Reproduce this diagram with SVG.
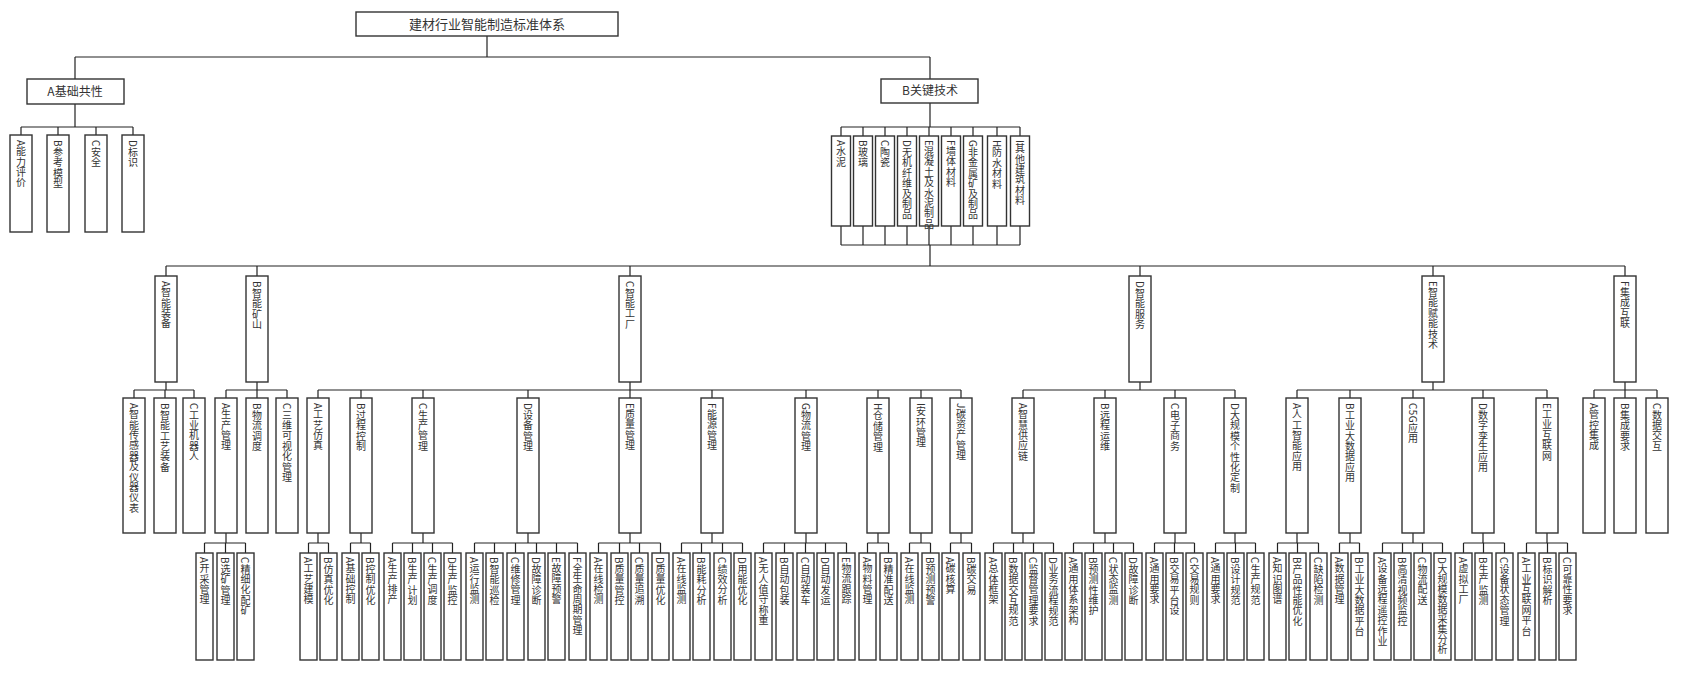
<svg xmlns="http://www.w3.org/2000/svg" width="1693" height="680" viewBox="0 0 1693 680">
<style>
rect{fill:#fff;stroke:#333;stroke-width:1.4}
text{font-family:"Noto Sans CJK SC","Liberation Serif",serif;fill:#333}
.h{font-size:12px;text-anchor:middle}
.v{font-size:10px;writing-mode:vertical-rl;text-orientation:mixed;letter-spacing:0.4px}
#c path{fill:none;stroke:#222;stroke-width:1.2}
</style>
<g id="c"><path d="M487 36V57M75 57H930M75 57V79M930 57V79
M75 104V127M21 127H133M21 127V135M58 127V135M96 127V135M133 127V135
M930 103V127M841 127H1020M841 127V136M863 127V136M885 127V136M907 127V136M929 127V136M951 127V136M973 127V136M997 127V136M1020 127V136
M841 226V245M863 226V245M885 226V245M907 226V245M929 226V245M951 226V245M973 226V245M997 226V245M1020 226V245M841 245H1020M930 245V266
M166 266H1625M166 266V276M257 266V276M630 266V276M1140 266V276M1433 266V276M1625 266V276
M166 382V390M134 390H194M134 390V398M165 390V398M194 390V398
M257 382V390M226 390H287M226 390V398M257 390V398M287 390V398
M630 382V390M318 390H961M318 390V398M361 390V398M423 390V398M528 390V398M630 390V398M712 390V398M806 390V398M878 390V398M921 390V398M961 390V398
M1140 382V390M1023 390H1235M1023 390V398M1105 390V398M1175 390V398M1235 390V398
M1433 382V390M1297 390H1547M1297 390V398M1350 390V398M1413 390V398M1483 390V398M1547 390V398
M1625 382V390M1594 390H1657M1594 390V398M1625 390V398M1657 390V398
M226 533V543M204.5 543H245.5M204.5 543V553M225.5 543V553M245.5 543V553
M318 533V543M308.5 543H328.5M308.5 543V553M328.5 543V553
M361 533V543M350.5 543H370.5M350.5 543V553M370.5 543V553
M423 533V543M392.5 543H452.5M392.5 543V553M412.5 543V553M432.5 543V553M452.5 543V553
M528 533V543M474.5 543H577.5M474.5 543V553M494.5 543V553M515.5 543V553M536.5 543V553M556.5 543V553M577.5 543V553
M630 533V543M598.5 543H660.5M598.5 543V553M619.5 543V553M639.5 543V553M660.5 543V553
M712 533V543M681.5 543H742.5M681.5 543V553M701.5 543V553M722.5 543V553M742.5 543V553
M806 533V543M763.5 543H846.5M763.5 543V553M784.5 543V553M805.5 543V553M825.5 543V553M846.5 543V553
M878 533V543M867.5 543H888.5M867.5 543V553M888.5 543V553
M921 533V543M909.5 543H930.5M909.5 543V553M930.5 543V553
M961 533V543M950.5 543H971.5M950.5 543V553M971.5 543V553
M1023 533V543M993.5 543H1053.5M993.5 543V553M1013.5 543V553M1033.5 543V553M1053.5 543V553
M1105 533V543M1073.5 543H1133.5M1073.5 543V553M1093.5 543V553M1113.5 543V553M1133.5 543V553
M1175 533V543M1154.5 543H1194.5M1154.5 543V553M1174.5 543V553M1194.5 543V553
M1235 533V543M1215.5 543H1255.5M1215.5 543V553M1235.5 543V553M1255.5 543V553
M1297 533V543M1277.5 543H1318.5M1277.5 543V553M1297.5 543V553M1318.5 543V553
M1350 533V543M1339.5 543H1359.5M1339.5 543V553M1359.5 543V553
M1413 533V543M1382.5 543H1442.5M1382.5 543V553M1402.5 543V553M1422.5 543V553M1442.5 543V553
M1483 533V543M1463.5 543H1504.5M1463.5 543V553M1483.5 543V553M1504.5 543V553
M1547 533V543M1526.5 543H1567.5M1526.5 543V553M1547.5 543V553M1567.5 543V553"/></g>
<g id="root"><rect x="356" y="12" width="262" height="24"/><text class="h" x="487" y="29" style="font-size:13px">建材行业智能制造标准体系</text></g>
<g id="A"><rect x="27" y="79" width="97" height="25"/><text class="h" x="75" y="96">A基础共性</text></g>
<g id="B"><rect x="881" y="79" width="97" height="24"/><text class="h" x="930" y="95">B关键技术</text></g>
<g id="A-A"><rect x="10" y="135" width="22" height="97"/><text class="v" x="21" y="140">A能力评价</text></g>
<g id="A-B"><rect x="47" y="135" width="22" height="97"/><text class="v" x="58" y="140">B参考模型</text></g>
<g id="A-C"><rect x="85" y="135" width="22" height="97"/><text class="v" x="96" y="140">C安全</text></g>
<g id="A-D"><rect x="122" y="135" width="22" height="97"/><text class="v" x="133" y="140">D标识</text></g>
<g id="B-A"><rect x="831.5" y="136" width="19" height="90"/><text class="v" x="841" y="140">A水泥</text></g>
<g id="B-B"><rect x="853.5" y="136" width="19" height="90"/><text class="v" x="863" y="140">B玻璃</text></g>
<g id="B-C"><rect x="875.5" y="136" width="19" height="90"/><text class="v" x="885" y="140">C陶瓷</text></g>
<g id="B-D"><rect x="897.5" y="136" width="19" height="90"/><text class="v" x="907" y="140">D无机纤维及制品</text></g>
<g id="B-E"><rect x="919.5" y="136" width="19" height="90"/><text class="v" x="929" y="140">E混凝土及水泥制品</text></g>
<g id="B-F"><rect x="941.5" y="136" width="19" height="90"/><text class="v" x="951" y="140">F墙体材料</text></g>
<g id="B-G"><rect x="963.5" y="136" width="19" height="90"/><text class="v" x="973" y="140">G非金属矿及制品</text></g>
<g id="B-H"><rect x="987.5" y="136" width="19" height="90"/><text class="v" x="997" y="140">H防水材料</text></g>
<g id="B-I"><rect x="1010.5" y="136" width="19" height="90"/><text class="v" x="1020" y="140">I其他建筑材料</text></g>
<g id="L2-A"><rect x="155" y="276" width="22" height="106"/><text class="v" x="166" y="281">A智能装备</text></g>
<g id="L2-B"><rect x="246" y="276" width="22" height="106"/><text class="v" x="257" y="281">B智能矿山</text></g>
<g id="L2-C"><rect x="619" y="276" width="22" height="106"/><text class="v" x="630" y="281">C智能工厂</text></g>
<g id="L2-D"><rect x="1129" y="276" width="22" height="106"/><text class="v" x="1140" y="281">D智能服务</text></g>
<g id="L2-E"><rect x="1422" y="276" width="22" height="106"/><text class="v" x="1433" y="281">E智能赋能技术</text></g>
<g id="L2-F"><rect x="1614" y="276" width="22" height="106"/><text class="v" x="1625" y="281">F集成互联</text></g>
<g id="L3-AA"><rect x="123" y="398" width="22" height="135"/><text class="v" x="134" y="403">A智能传感器及仪器仪表</text></g>
<g id="L3-AB"><rect x="154" y="398" width="22" height="135"/><text class="v" x="165" y="403">B智能工艺装备</text></g>
<g id="L3-AC"><rect x="183" y="398" width="22" height="135"/><text class="v" x="194" y="403">C工业机器人</text></g>
<g id="L3-BA"><rect x="215" y="398" width="22" height="135"/><text class="v" x="226" y="403">A生产管理</text></g>
<g id="L3-BB"><rect x="246" y="398" width="22" height="135"/><text class="v" x="257" y="403">B物流调度</text></g>
<g id="L3-BC"><rect x="276" y="398" width="22" height="135"/><text class="v" x="287" y="403">C三维可视化管理</text></g>
<g id="L3-CA"><rect x="307" y="398" width="22" height="135"/><text class="v" x="318" y="403">A工艺仿真</text></g>
<g id="L3-CB"><rect x="350" y="398" width="22" height="135"/><text class="v" x="361" y="403">B过程控制</text></g>
<g id="L3-CC"><rect x="412" y="398" width="22" height="135"/><text class="v" x="423" y="403">C生产管理</text></g>
<g id="L3-CD"><rect x="517" y="398" width="22" height="135"/><text class="v" x="528" y="403">D设备管理</text></g>
<g id="L3-CE"><rect x="619" y="398" width="22" height="135"/><text class="v" x="630" y="403">E质量管理</text></g>
<g id="L3-CF"><rect x="701" y="398" width="22" height="135"/><text class="v" x="712" y="403">F能源管理</text></g>
<g id="L3-CG"><rect x="795" y="398" width="22" height="135"/><text class="v" x="806" y="403">G物流管理</text></g>
<g id="L3-CH"><rect x="867" y="398" width="22" height="135"/><text class="v" x="878" y="403">H仓储管理</text></g>
<g id="L3-CI"><rect x="910" y="398" width="22" height="135"/><text class="v" x="921" y="403">I安环管理</text></g>
<g id="L3-CJ"><rect x="950" y="398" width="22" height="135"/><text class="v" x="961" y="403">J碳资产管理</text></g>
<g id="L3-DA"><rect x="1012" y="398" width="22" height="135"/><text class="v" x="1023" y="403">A智慧供应链</text></g>
<g id="L3-DB"><rect x="1094" y="398" width="22" height="135"/><text class="v" x="1105" y="403">B远程运维</text></g>
<g id="L3-DC"><rect x="1164" y="398" width="22" height="135"/><text class="v" x="1175" y="403">C电子商务</text></g>
<g id="L3-DD"><rect x="1224" y="398" width="22" height="135"/><text class="v" x="1235" y="403">D大规模个性化定制</text></g>
<g id="L3-EA"><rect x="1286" y="398" width="22" height="135"/><text class="v" x="1297" y="403">A人工智能应用</text></g>
<g id="L3-EB"><rect x="1339" y="398" width="22" height="135"/><text class="v" x="1350" y="403">B工业大数据应用</text></g>
<g id="L3-EC"><rect x="1402" y="398" width="22" height="135"/><text class="v" x="1413" y="403">C5G应用</text></g>
<g id="L3-ED"><rect x="1472" y="398" width="22" height="135"/><text class="v" x="1483" y="403">D数字孪生应用</text></g>
<g id="L3-EE"><rect x="1536" y="398" width="22" height="135"/><text class="v" x="1547" y="403">E工业互联网</text></g>
<g id="L3-FA"><rect x="1583" y="398" width="22" height="135"/><text class="v" x="1594" y="403">A管控集成</text></g>
<g id="L3-FB"><rect x="1614" y="398" width="22" height="135"/><text class="v" x="1625" y="403">B集成要求</text></g>
<g id="L3-FC"><rect x="1646" y="398" width="22" height="135"/><text class="v" x="1657" y="403">C数据交互</text></g>
<g id="L4-1"><rect x="196" y="553" width="17" height="107"/><text class="v" x="204.5" y="557">A开采管理</text></g>
<g id="L4-2"><rect x="217" y="553" width="17" height="107"/><text class="v" x="225.5" y="557">B选矿管理</text></g>
<g id="L4-3"><rect x="237" y="553" width="17" height="107"/><text class="v" x="245.5" y="557">C精细化配矿</text></g>
<g id="L4-4"><rect x="300" y="553" width="17" height="107"/><text class="v" x="308.5" y="557">A工艺建模</text></g>
<g id="L4-5"><rect x="320" y="553" width="17" height="107"/><text class="v" x="328.5" y="557">B仿真优化</text></g>
<g id="L4-6"><rect x="342" y="553" width="17" height="107"/><text class="v" x="350.5" y="557">A基础控制</text></g>
<g id="L4-7"><rect x="362" y="553" width="17" height="107"/><text class="v" x="370.5" y="557">B控制优化</text></g>
<g id="L4-8"><rect x="384" y="553" width="17" height="107"/><text class="v" x="392.5" y="557">A生产排产</text></g>
<g id="L4-9"><rect x="404" y="553" width="17" height="107"/><text class="v" x="412.5" y="557">B生产计划</text></g>
<g id="L4-10"><rect x="424" y="553" width="17" height="107"/><text class="v" x="432.5" y="557">C生产调度</text></g>
<g id="L4-11"><rect x="444" y="553" width="17" height="107"/><text class="v" x="452.5" y="557">D生产监控</text></g>
<g id="L4-12"><rect x="466" y="553" width="17" height="107"/><text class="v" x="474.5" y="557">A运行监测</text></g>
<g id="L4-13"><rect x="486" y="553" width="17" height="107"/><text class="v" x="494.5" y="557">B智能巡检</text></g>
<g id="L4-14"><rect x="507" y="553" width="17" height="107"/><text class="v" x="515.5" y="557">C维修管理</text></g>
<g id="L4-15"><rect x="528" y="553" width="17" height="107"/><text class="v" x="536.5" y="557">D故障诊断</text></g>
<g id="L4-16"><rect x="548" y="553" width="17" height="107"/><text class="v" x="556.5" y="557">E故障预警</text></g>
<g id="L4-17"><rect x="569" y="553" width="17" height="107"/><text class="v" x="577.5" y="557">F全生命周期管理</text></g>
<g id="L4-18"><rect x="590" y="553" width="17" height="107"/><text class="v" x="598.5" y="557">A在线检测</text></g>
<g id="L4-19"><rect x="611" y="553" width="17" height="107"/><text class="v" x="619.5" y="557">B质量管控</text></g>
<g id="L4-20"><rect x="631" y="553" width="17" height="107"/><text class="v" x="639.5" y="557">C质量追溯</text></g>
<g id="L4-21"><rect x="652" y="553" width="17" height="107"/><text class="v" x="660.5" y="557">D质量优化</text></g>
<g id="L4-22"><rect x="673" y="553" width="17" height="107"/><text class="v" x="681.5" y="557">A在线监测</text></g>
<g id="L4-23"><rect x="693" y="553" width="17" height="107"/><text class="v" x="701.5" y="557">B能耗分析</text></g>
<g id="L4-24"><rect x="714" y="553" width="17" height="107"/><text class="v" x="722.5" y="557">C绩效分析</text></g>
<g id="L4-25"><rect x="734" y="553" width="17" height="107"/><text class="v" x="742.5" y="557">D用能优化</text></g>
<g id="L4-26"><rect x="755" y="553" width="17" height="107"/><text class="v" x="763.5" y="557">A无人值守称重</text></g>
<g id="L4-27"><rect x="776" y="553" width="17" height="107"/><text class="v" x="784.5" y="557">B自动包装</text></g>
<g id="L4-28"><rect x="797" y="553" width="17" height="107"/><text class="v" x="805.5" y="557">C自动装车</text></g>
<g id="L4-29"><rect x="817" y="553" width="17" height="107"/><text class="v" x="825.5" y="557">D自动发运</text></g>
<g id="L4-30"><rect x="838" y="553" width="17" height="107"/><text class="v" x="846.5" y="557">E物流跟踪</text></g>
<g id="L4-31"><rect x="859" y="553" width="17" height="107"/><text class="v" x="867.5" y="557">A物料管理</text></g>
<g id="L4-32"><rect x="880" y="553" width="17" height="107"/><text class="v" x="888.5" y="557">B精准配送</text></g>
<g id="L4-33"><rect x="901" y="553" width="17" height="107"/><text class="v" x="909.5" y="557">A在线监测</text></g>
<g id="L4-34"><rect x="922" y="553" width="17" height="107"/><text class="v" x="930.5" y="557">B预测预警</text></g>
<g id="L4-35"><rect x="942" y="553" width="17" height="107"/><text class="v" x="950.5" y="557">A碳核算</text></g>
<g id="L4-36"><rect x="963" y="553" width="17" height="107"/><text class="v" x="971.5" y="557">B碳交易</text></g>
<g id="L4-37"><rect x="985" y="553" width="17" height="107"/><text class="v" x="993.5" y="557">A总体框架</text></g>
<g id="L4-38"><rect x="1005" y="553" width="17" height="107"/><text class="v" x="1013.5" y="557">B数据交互规范</text></g>
<g id="L4-39"><rect x="1025" y="553" width="17" height="107"/><text class="v" x="1033.5" y="557">C监督管理要求</text></g>
<g id="L4-40"><rect x="1045" y="553" width="17" height="107"/><text class="v" x="1053.5" y="557">D业务流程规范</text></g>
<g id="L4-41"><rect x="1065" y="553" width="17" height="107"/><text class="v" x="1073.5" y="557">A通用体系架构</text></g>
<g id="L4-42"><rect x="1085" y="553" width="17" height="107"/><text class="v" x="1093.5" y="557">B预测性维护</text></g>
<g id="L4-43"><rect x="1105" y="553" width="17" height="107"/><text class="v" x="1113.5" y="557">C状态监测</text></g>
<g id="L4-44"><rect x="1125" y="553" width="17" height="107"/><text class="v" x="1133.5" y="557">D故障诊断</text></g>
<g id="L4-45"><rect x="1146" y="553" width="17" height="107"/><text class="v" x="1154.5" y="557">A通用要求</text></g>
<g id="L4-46"><rect x="1166" y="553" width="17" height="107"/><text class="v" x="1174.5" y="557">B交易平台设</text></g>
<g id="L4-47"><rect x="1186" y="553" width="17" height="107"/><text class="v" x="1194.5" y="557">C交易规则</text></g>
<g id="L4-48"><rect x="1207" y="553" width="17" height="107"/><text class="v" x="1215.5" y="557">A通用要求</text></g>
<g id="L4-49"><rect x="1227" y="553" width="17" height="107"/><text class="v" x="1235.5" y="557">B设计规范</text></g>
<g id="L4-50"><rect x="1247" y="553" width="17" height="107"/><text class="v" x="1255.5" y="557">C生产规范</text></g>
<g id="L4-51"><rect x="1269" y="553" width="17" height="107"/><text class="v" x="1277.5" y="557">A知识图谱</text></g>
<g id="L4-52"><rect x="1289" y="553" width="17" height="107"/><text class="v" x="1297.5" y="557">B产品性能优化</text></g>
<g id="L4-53"><rect x="1310" y="553" width="17" height="107"/><text class="v" x="1318.5" y="557">C缺陷检测</text></g>
<g id="L4-54"><rect x="1331" y="553" width="17" height="107"/><text class="v" x="1339.5" y="557">A数据管理</text></g>
<g id="L4-55"><rect x="1351" y="553" width="17" height="107"/><text class="v" x="1359.5" y="557">B工业大数据平台</text></g>
<g id="L4-56"><rect x="1374" y="553" width="17" height="107"/><text class="v" x="1382.5" y="557">A设备远程遥控作业</text></g>
<g id="L4-57"><rect x="1394" y="553" width="17" height="107"/><text class="v" x="1402.5" y="557">B高清视频监控</text></g>
<g id="L4-58"><rect x="1414" y="553" width="17" height="107"/><text class="v" x="1422.5" y="557">C物流配送</text></g>
<g id="L4-59"><rect x="1434" y="553" width="17" height="107"/><text class="v" x="1442.5" y="557" style="letter-spacing:0">D大规模数据采集分析</text></g>
<g id="L4-60"><rect x="1455" y="553" width="17" height="107"/><text class="v" x="1463.5" y="557">A虚拟工厂</text></g>
<g id="L4-61"><rect x="1475" y="553" width="17" height="107"/><text class="v" x="1483.5" y="557">B生产监测</text></g>
<g id="L4-62"><rect x="1496" y="553" width="17" height="107"/><text class="v" x="1504.5" y="557">C设备状态管理</text></g>
<g id="L4-63"><rect x="1518" y="553" width="17" height="107"/><text class="v" x="1526.5" y="557">A工业互联网平台</text></g>
<g id="L4-64"><rect x="1539" y="553" width="17" height="107"/><text class="v" x="1547.5" y="557">B标识解析</text></g>
<g id="L4-65"><rect x="1559" y="553" width="17" height="107"/><text class="v" x="1567.5" y="557">C可靠性要求</text></g>
</svg>
